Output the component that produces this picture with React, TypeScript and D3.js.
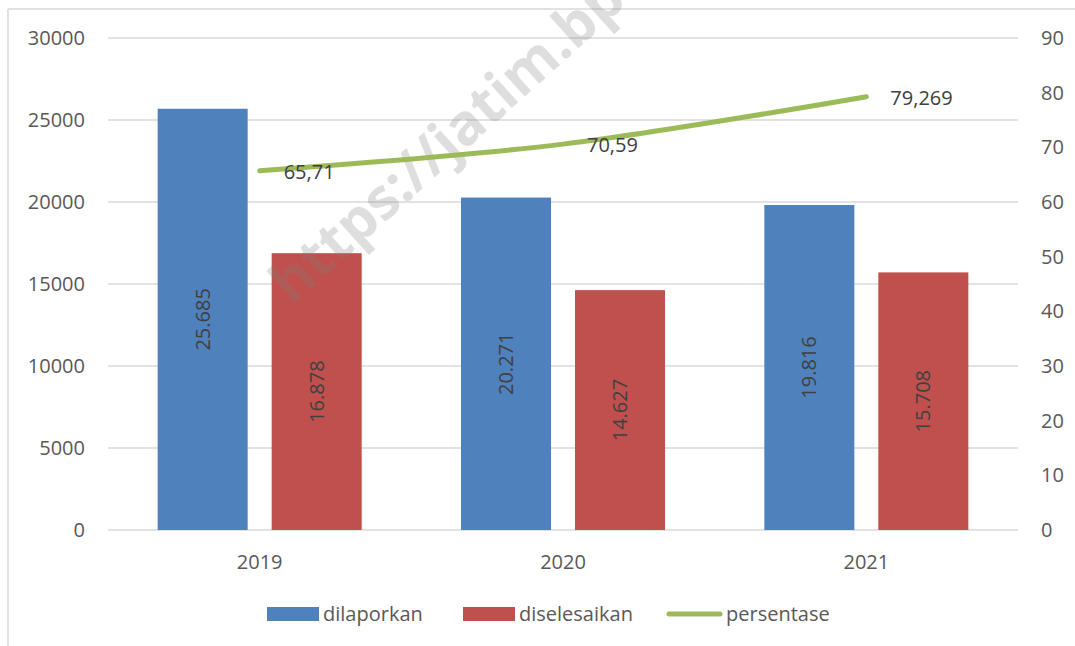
import React, { useEffect, useRef } from 'react'
import * as d3 from 'd3'

const years = ['2019', '2020', '2021']
const dilaporkan = [25685, 20271, 19816]
const diselesaikan = [16878, 14627, 15708]
const persentase = [65.71, 70.59, 79.269]
const barLabels1 = ['25.685', '20.271', '19.816']
const barLabels2 = ['16.878', '14.627', '15.708']
const lineLabels = ['65,71', '70,59', '79,269']
const leftTicks = [0, 5000, 10000, 15000, 20000, 25000, 30000]
const rightTicks = [0, 10, 20, 30, 40, 50, 60, 70, 80, 90]

const App = () => {
     const svgRef = useRef<SVGSVGElement>(null)

     useEffect(() => {
          const width = 1075
          const height = 646
          const plot = { left: 108, right: 1018, top: 38, bottom: 530 }
          const font = "'Open Sans', sans-serif"
          const gridColor = '#D9D9D9'
          const blue = '#4F81BD'
          const red = '#C0504D'
          const green = '#9BBB59'

          const svg = d3.select(svgRef.current)
          svg.selectAll('*').remove()
          svg.attr('width', width).attr('height', height)

          // chart frame
          svg.append('line')
               .attr('x1', 8).attr('x2', 8).attr('y1', 9).attr('y2', height)
               .attr('stroke', gridColor).attr('stroke-width', 1.5)
          svg.append('line')
               .attr('x1', 8).attr('x2', width).attr('y1', 9).attr('y2', 9)
               .attr('stroke', gridColor).attr('stroke-width', 1.5)

          const x = d3.scaleBand().domain(years).range([plot.left, plot.right])
          const yL = d3.scaleLinear().domain([0, 30000]).range([plot.bottom, plot.top])
          const yR = d3.scaleLinear().domain([0, 90]).range([plot.bottom, plot.top])

          const barW = 90
          const barGap = 24

          // gridlines
          svg.append('g')
               .selectAll('line')
               .data(leftTicks)
               .enter()
               .append('line')
               .attr('x1', plot.left)
               .attr('x2', plot.right)
               .attr('y1', (d) => yL(d))
               .attr('y2', (d) => yL(d))
               .attr('stroke', gridColor)
               .attr('stroke-width', 1.5)

          // left ticks
          svg.append('g')
               .selectAll('text')
               .data(leftTicks)
               .enter()
               .append('text')
               .attr('x', 85)
               .attr('y', (d) => yL(d))
               .attr('dy', '0.35em')
               .attr('text-anchor', 'end')
               .style('font-family', font)
               .style('font-size', '20px')
               .style('fill', '#595959')
               .text((d) => String(d))

          // right ticks
          svg.append('g')
               .selectAll('text')
               .data(rightTicks)
               .enter()
               .append('text')
               .attr('x', 1041)
               .attr('y', (d) => yR(d))
               .attr('dy', '0.35em')
               .attr('text-anchor', 'start')
               .style('font-family', font)
               .style('font-size', '20px')
               .style('fill', '#595959')
               .text((d) => String(d))

          // x labels
          svg.append('g')
               .selectAll('text')
               .data(years)
               .enter()
               .append('text')
               .attr('x', (d) => (x(d) as number) + x.bandwidth() / 2)
               .attr('y', 562)
               .attr('dy', '0.35em')
               .attr('text-anchor', 'middle')
               .style('font-family', font)
               .style('font-size', '20px')
               .style('fill', '#595959')
               .text((d) => d)

          const cx = (i: number) => (x(years[i]) as number) + x.bandwidth() / 2

          // bars
          const bars = svg.append('g')
          bars.selectAll('rect.b1')
               .data(dilaporkan)
               .enter()
               .append('rect')
               .attr('x', (d, i) => cx(i) - barGap / 2 - barW)
               .attr('y', (d) => yL(d))
               .attr('width', barW)
               .attr('height', (d) => plot.bottom - yL(d))
               .attr('fill', blue)
          bars.selectAll('rect.b2')
               .data(diselesaikan)
               .enter()
               .append('rect')
               .attr('x', (d, i) => cx(i) + barGap / 2)
               .attr('y', (d) => yL(d))
               .attr('width', barW)
               .attr('height', (d) => plot.bottom - yL(d))
               .attr('fill', red)

          // watermark
          svg.append('text')
               .attr('transform', 'translate(292,306) rotate(-42)')
               .style('font-family', "'Open Sans', sans-serif")
               .style('font-weight', 'bold')
               .style('font-size', '57px')
               .style('fill', '#808080')
               .style('opacity', 0.25)
               .text('https://jatim.bps.go.id')

          // bar labels
          const labelG = svg.append('g')
          dilaporkan.forEach((d, i) => {
               const px = cx(i) - barGap / 2 - barW / 2
               const py = (yL(d) + plot.bottom) / 2
               labelG.append('text')
                    .attr('transform', `translate(${px},${py}) rotate(-90)`)
                    .attr('text-anchor', 'middle')
                    .attr('dy', '0.35em')
                    .style('font-family', font)
                    .style('font-size', '20px')
                    .style('fill', '#404040')
                    .text(barLabels1[i])
          })
          diselesaikan.forEach((d, i) => {
               const px = cx(i) + barGap / 2 + barW / 2
               const py = (yL(d) + plot.bottom) / 2
               labelG.append('text')
                    .attr('transform', `translate(${px},${py}) rotate(-90)`)
                    .attr('text-anchor', 'middle')
                    .attr('dy', '0.35em')
                    .style('font-family', font)
                    .style('font-size', '20px')
                    .style('fill', '#404040')
                    .text(barLabels2[i])
          })

          // line
          const line = d3
               .line<number>()
               .x((d, i) => cx(i))
               .y((d) => yR(d))
               .curve(d3.curveCatmullRom.alpha(0.5))
          svg.append('path')
               .datum(persentase)
               .attr('d', line)
               .attr('fill', 'none')
               .attr('stroke', green)
               .attr('stroke-width', 5)
               .attr('stroke-linecap', 'round')

          svg.append('g')
               .selectAll('text')
               .data(persentase)
               .enter()
               .append('text')
               .attr('x', (d, i) => cx(i) + 24)
               .attr('y', (d) => yR(d) + 1)
               .attr('dy', '0.35em')
               .style('font-family', font)
               .style('font-size', '20px')
               .style('fill', '#404040')
               .text((d, i) => lineLabels[i])

          // legend
          const legend = svg.append('g')
          const ly = 614
          legend.append('rect')
               .attr('x', 267).attr('y', ly - 7).attr('width', 52).attr('height', 14)
               .attr('fill', blue)
          legend.append('text')
               .attr('x', 323).attr('y', ly).attr('dy', '0.35em')
               .style('font-family', font).style('font-size', '20px').style('fill', '#595959')
               .text('dilaporkan')
          legend.append('rect')
               .attr('x', 463).attr('y', ly - 7).attr('width', 52).attr('height', 14)
               .attr('fill', red)
          legend.append('text')
               .attr('x', 519).attr('y', ly).attr('dy', '0.35em')
               .style('font-family', font).style('font-size', '20px').style('fill', '#595959')
               .text('diselesaikan')
          legend.append('line')
               .attr('x1', 669).attr('x2', 720).attr('y1', ly).attr('y2', ly)
               .attr('stroke', green).attr('stroke-width', 5).attr('stroke-linecap', 'round')
          legend.append('text')
               .attr('x', 726).attr('y', ly).attr('dy', '0.35em')
               .style('font-family', font).style('font-size', '20px').style('fill', '#595959')
               .text('persentase')
     }, [])

     return (
          <svg
               ref={svgRef}
               style={{ position: 'absolute', left: 0, top: 0, display: 'block', background: '#fff' }}
          ></svg>
     )
}

export default App
